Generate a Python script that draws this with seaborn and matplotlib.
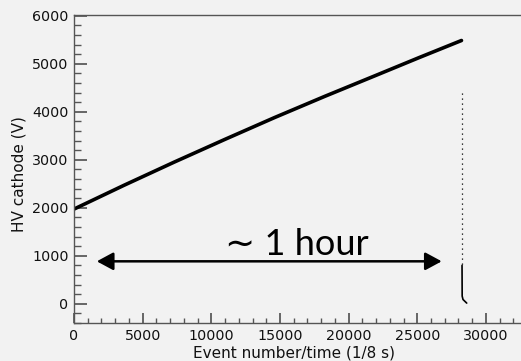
import matplotlib
matplotlib.use("Agg")
import matplotlib.pyplot as plt
import seaborn as sns
import pandas as pd
from matplotlib.ticker import MultipleLocator

# ---- data ----
ramp_x = [0, 3650, 7300, 10950, 14600, 18250, 21950, 25100, 28220]
ramp_y = [1973, 2470, 2952, 3420, 3879, 4320, 4754, 5125, 5485]

drop_dotted_x = [28260, 28260]
drop_dotted_y = [4390, 800]
drop_tail_x = [28260, 28270, 28330, 28600]
drop_tail_y = [800, 160, 90, 15]

arrow_y = 885
arrow_x_left = 1660
arrow_x_right = 26780
annot_text = "\u223c 1 hour"

x_label = "Event number/time (1/8 s)"
y_label = "HV cathode (V)"
x_ticks = [0, 5000, 10000, 15000, 20000, 25000, 30000]
y_ticks = [0, 1000, 2000, 3000, 4000, 5000, 6000]

sns.set_theme(style="ticks")
plt.rcParams["font.family"] = ["DejaVu Sans"]

bg = "#f2f2f2"
W, H = 521, 361
fig = plt.figure(figsize=(W / 100, H / 100), dpi=100, facecolor=bg)
ax_l, ax_b, ax_t = 74, 323, 15.3
ax_w = W - ax_l + 2
ax_h = ax_b - ax_t
ax = fig.add_axes([ax_l / W, (H - ax_b) / H, ax_w / W, ax_h / H])
ax.set_facecolor(bg)

ramp = pd.DataFrame({"x": ramp_x, "y": ramp_y})
sns.lineplot(data=ramp, x="x", y="y", ax=ax, color="black", linewidth=2.6, sort=False)
ax.plot(drop_dotted_x, drop_dotted_y, color="black", linewidth=0.9, linestyle=(0, (1, 3)))
ax.plot(drop_tail_x, drop_tail_y, color="black", linewidth=1.2)

ax.annotate("", xy=(arrow_x_left, arrow_y), xytext=(arrow_x_right, arrow_y),
            arrowprops=dict(arrowstyle="<|-|>,head_length=0.5,head_width=0.27",
                            color="black", lw=1.8, mutation_scale=20,
                            shrinkA=0, shrinkB=0))
ax.text(16240, 1020, annot_text, fontsize=26, ha="center", va="baseline",
        family=["Lato", "DejaVu Sans"], color="black")

ax.set_xlim(0, 32700)
ax.set_ylim(-400, 6010)
ax.set_xticks(x_ticks)
ax.set_yticks(y_ticks)
ax.xaxis.set_minor_locator(MultipleLocator(1000))
ax.yaxis.set_minor_locator(MultipleLocator(200))

spine_c = "#555555"
for s in ["left", "bottom", "top"]:
    ax.spines[s].set_color(spine_c)
    ax.spines[s].set_linewidth(1.0)
ax.spines["right"].set_visible(False)

ax.tick_params(axis="both", which="both", direction="in", color=spine_c,
               labelsize=10.3, labelcolor="#111111", top=False, right=False)
ax.tick_params(axis="y", which="major", length=9, pad=4)
ax.tick_params(axis="y", which="minor", length=5.2)
ax.tick_params(axis="x", which="major", length=7.2, pad=4)
ax.tick_params(axis="x", which="minor", length=3.8)

ax.set_xlabel(x_label, fontsize=11, color="#111111")
ax.set_ylabel(y_label, fontsize=11, color="#111111")
ax.xaxis.set_label_coords((294 - ax_l) / ax_w, -(353 - ax_b) / ax_h)
ax.xaxis.label.set_va("center")
ax.yaxis.set_label_coords(-(ax_l - 19) / ax_w, (ax_b - 174) / ax_h)
ax.yaxis.label.set_va("center")

fig.savefig("out.png", dpi=100, facecolor=bg)
